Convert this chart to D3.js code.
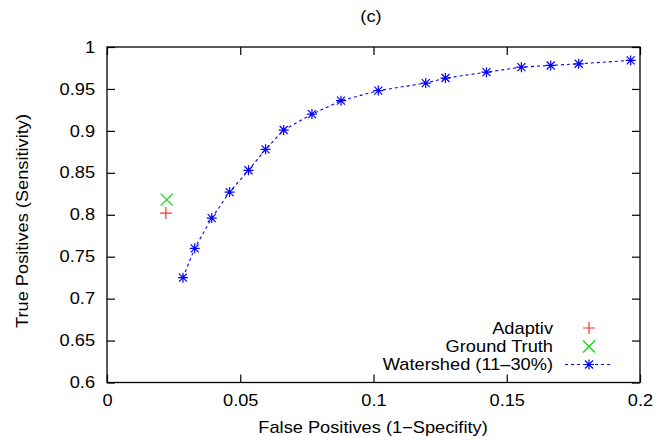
<!DOCTYPE HTML>
<html>
<head>
	<meta charset="UTF-8">
	<script src="https://d3js.org/d3.v7.min.js"></script>
	<style type="text/css">
	body { margin: 0; background: #fff; }
	text { font-family: "Liberation Sans", Arial, sans-serif; font-size: 16px; fill: #000; }
	.frame { fill: none; stroke: #000; stroke-width: 1.3; }
	.tick line { stroke: #000; stroke-width: 1.2; }
	.ws-line { fill: none; stroke: #0000ff; stroke-width: 1.1; stroke-dasharray: 3,3; }
	</style>
	<title>ROC (c)</title>
</head>
<body>
<div id="chart"></div>
<script>
// watershed sweep (11-30%)
var wsFalsePos = [0.0285, 0.0329, 0.0393, 0.0460, 0.0531, 0.0595, 0.0663, 0.0769, 0.0878,
                  0.1018, 0.1196, 0.1270, 0.1424, 0.1555, 0.1665, 0.1770, 0.1965];
var wsTruePos  = [0.725, 0.760, 0.796, 0.827, 0.853, 0.878, 0.901, 0.920, 0.936,
                  0.948, 0.957, 0.963, 0.970, 0.976, 0.978, 0.980, 0.984];

var adaptiv     = [0.0221, 0.802];
var groundTruth = [0.0224, 0.818];

var xTicks = [0, 0.05, 0.1, 0.15, 0.2];
var yTicks = [0.6, 0.65, 0.7, 0.75, 0.8, 0.85, 0.9, 0.95, 1];
var legendNames = ["Adaptiv", "Ground Truth", "Watershed (11\u201330%)"];

var W = 657, H = 436;
var margin = {top: 47, right: 17, bottom: 53.5, left: 107};
var width = W - margin.left - margin.right,
    height = H - margin.top - margin.bottom;
var stretch = 1.14; // the source font is wider than it is tall

var x = d3.scaleLinear().domain([0, 0.2]).range([0, width]);
var y = d3.scaleLinear().domain([0.6, 1]).range([height, 0]);
var fmt = function(d) { return String(+d.toFixed(2)); };

var svg = d3.select("#chart").append("svg")
    .attr("width", W)
    .attr("height", H);
var g = svg.append("g")
    .attr("transform", "translate(" + margin.left + "," + margin.top + ")");

// axes with inward ticks, mirrored on top/right
var xAx = g.append("g").attr("transform", "translate(0," + height + ")")
    .call(d3.axisBottom(x).tickValues(xTicks).tickFormat(fmt).tickSizeInner(-8).tickSizeOuter(0).tickPadding(12));
var yAx = g.append("g")
    .call(d3.axisLeft(y).tickValues(yTicks).tickFormat(fmt).tickSizeInner(-8).tickSizeOuter(0).tickPadding(10.5));
g.append("g")
    .call(d3.axisTop(x).tickValues(xTicks).tickFormat("").tickSizeInner(-8).tickSizeOuter(0));
g.append("g").attr("transform", "translate(" + width + ",0)")
    .call(d3.axisRight(y).tickValues(yTicks).tickFormat("").tickSizeInner(-8).tickSizeOuter(0));
g.selectAll(".domain").remove();
g.selectAll(".tick text").attr("font-size", null).attr("font-family", null)
    .attr("transform", "scale(" + stretch + ",1)");

g.append("rect").attr("class", "frame")
    .attr("width", width).attr("height", height);

// titles
function label(txt, tx, ty, rot) {
    svg.append("text")
        .attr("text-anchor", "middle")
        .attr("transform", "translate(" + tx + "," + ty + ")" + (rot ? " rotate(-90)" : "") + " scale(" + stretch + ",1)")
        .text(txt);
}
label("(c)", 371, 22, false);
label("False Positives (1\u2212Specifity)", 373, 433, false);
label("True Positives (Sensitivity)", 28, 221, true);

// markers
function plus(sel, px, py, s, color) {
    sel.append("path").attr("d", "M" + (px - s) + "," + py + "H" + (px + s) + "M" + px + "," + (py - s) + "V" + (py + s))
        .attr("stroke", color).attr("stroke-width", 1.2).attr("fill", "none");
}
function cross(sel, px, py, s, color) {
    sel.append("path").attr("d", "M" + (px - s) + "," + (py - s) + "L" + (px + s) + "," + (py + s) +
        "M" + (px - s) + "," + (py + s) + "L" + (px + s) + "," + (py - s))
        .attr("stroke", color).attr("stroke-width", 1.2).attr("fill", "none");
}
function star(sel, px, py) {
    plus(sel, px, py, 5, "#0000ff");
    cross(sel, px, py, 4, "#0000ff");
    sel.append("circle").attr("cx", px).attr("cy", py).attr("r", 1.6).attr("fill", "#0000ff");
}

var line = d3.line()
    .x(function(d, i) { return x(wsFalsePos[i]); })
    .y(function(d) { return y(d); });
g.append("path").attr("class", "ws-line").attr("d", line(wsTruePos));
wsTruePos.forEach(function(d, i) { star(g, x(wsFalsePos[i]), y(d)); });

plus(g, x(adaptiv[0]), y(adaptiv[1]), 6, "#ff3030");
cross(g, x(groundTruth[0]), y(groundTruth[1]), 6, "#00e000");

// legend
var legY = [328, 346.5, 364.5];
var leg = svg.append("g");
legendNames.forEach(function(n, i) {
    leg.append("text")
        .attr("text-anchor", "end")
        .attr("dy", "0.35em")
        .attr("transform", "translate(553," + legY[i] + ") scale(" + stretch + ",1)")
        .text(n);
});
plus(leg, 589, legY[0], 6, "#ff3030");
cross(leg, 589, legY[1], 6, "#00e000");
leg.append("path").attr("class", "ws-line").attr("d", "M565," + legY[2] + "H613");
star(leg, 589, legY[2]);
</script>
</body>
</html>
